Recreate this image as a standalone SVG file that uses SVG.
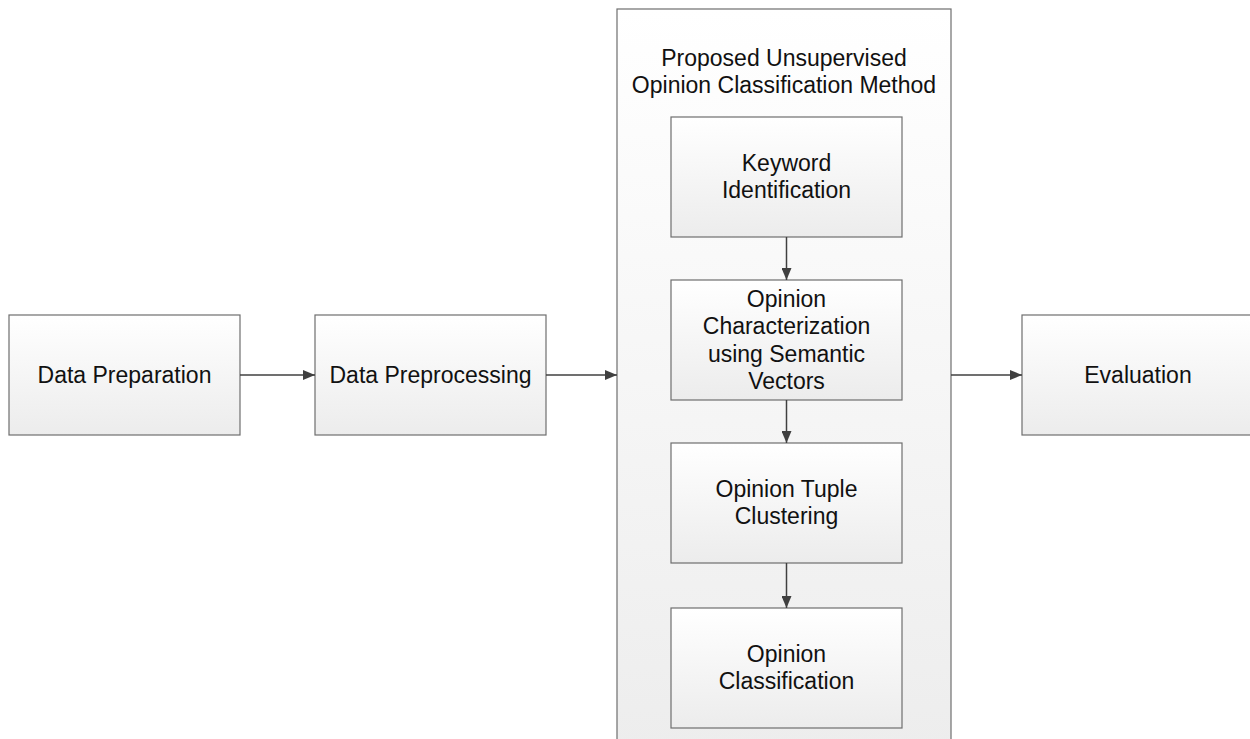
<svg xmlns="http://www.w3.org/2000/svg" width="1250" height="739" viewBox="0 0 1250 739">
  <defs>
    <linearGradient id="boxFill" x1="0" y1="0" x2="0" y2="1">
      <stop offset="0" stop-color="#ffffff"/>
      <stop offset="1" stop-color="#ececec"/>
    </linearGradient>
    <linearGradient id="panelFill" x1="0" y1="0" x2="0" y2="1">
      <stop offset="0" stop-color="#ffffff"/>
      <stop offset="1" stop-color="#ededed"/>
    </linearGradient>
    <marker id="arrow" markerWidth="12" markerHeight="10" refX="12" refY="5" orient="auto" markerUnits="userSpaceOnUse">
      <path d="M0,0 L12,5 L0,10 Z" fill="#404040"/>
    </marker>
  </defs>
  <style>
    .box { fill: url(#boxFill); stroke: #6e6e6e; stroke-width: 1.2; }
    .panel { fill: url(#panelFill); stroke: #6e6e6e; stroke-width: 1.2; }
    .label { font-family: "Liberation Sans", Arial, sans-serif; font-size: 23px; fill: #111111; text-anchor: middle; }
    .conn { stroke: #404040; stroke-width: 1.5; fill: none; marker-end: url(#arrow); }
  </style>
  <rect width="1250" height="739" fill="#ffffff"/>

  <!-- enclosing panel for the proposed method -->
  <g id="method">
    <rect class="panel" x="617" y="9" width="334" height="740"/>
    <text class="label" x="784" y="66">Proposed Unsupervised</text>
    <text class="label" x="784" y="93">Opinion Classification Method</text>
  </g>

  <g id="data-preparation">
    <rect class="box" x="9" y="315" width="231" height="120"/>
    <text class="label" x="124.5" y="383">Data Preparation</text>
  </g>

  <g id="data-preprocessing">
    <rect class="box" x="315" y="315" width="231" height="120"/>
    <text class="label" x="430.5" y="383">Data Preprocessing</text>
  </g>

  <g id="keyword-identification">
    <rect class="box" x="671" y="117" width="231" height="120"/>
    <text class="label" x="786.5" y="171">Keyword</text>
    <text class="label" x="786.5" y="198">Identification</text>
  </g>

  <g id="opinion-characterization">
    <rect class="box" x="671" y="280" width="231" height="120"/>
    <text class="label" x="786.5" y="307">Opinion</text>
    <text class="label" x="786.5" y="334">Characterization</text>
    <text class="label" x="786.5" y="362">using Semantic</text>
    <text class="label" x="786.5" y="389">Vectors</text>
  </g>

  <g id="opinion-tuple-clustering">
    <rect class="box" x="671" y="443" width="231" height="120"/>
    <text class="label" x="786.5" y="497">Opinion Tuple</text>
    <text class="label" x="786.5" y="524">Clustering</text>
  </g>

  <g id="opinion-classification">
    <rect class="box" x="671" y="608" width="231" height="120"/>
    <text class="label" x="786.5" y="662">Opinion</text>
    <text class="label" x="786.5" y="689">Classification</text>
  </g>

  <g id="evaluation">
    <rect class="box" x="1022" y="315" width="240" height="120"/>
    <text class="label" x="1138" y="383">Evaluation</text>
  </g>

  <g id="connectors">
    <line class="conn" x1="240" y1="375" x2="315" y2="375"/>
    <line class="conn" x1="546" y1="375" x2="617" y2="375"/>
    <line class="conn" x1="951" y1="375" x2="1022" y2="375"/>
    <line class="conn" x1="786.5" y1="237" x2="786.5" y2="280"/>
    <line class="conn" x1="786.5" y1="400" x2="786.5" y2="443"/>
    <line class="conn" x1="786.5" y1="563" x2="786.5" y2="608"/>
  </g>
</svg>
